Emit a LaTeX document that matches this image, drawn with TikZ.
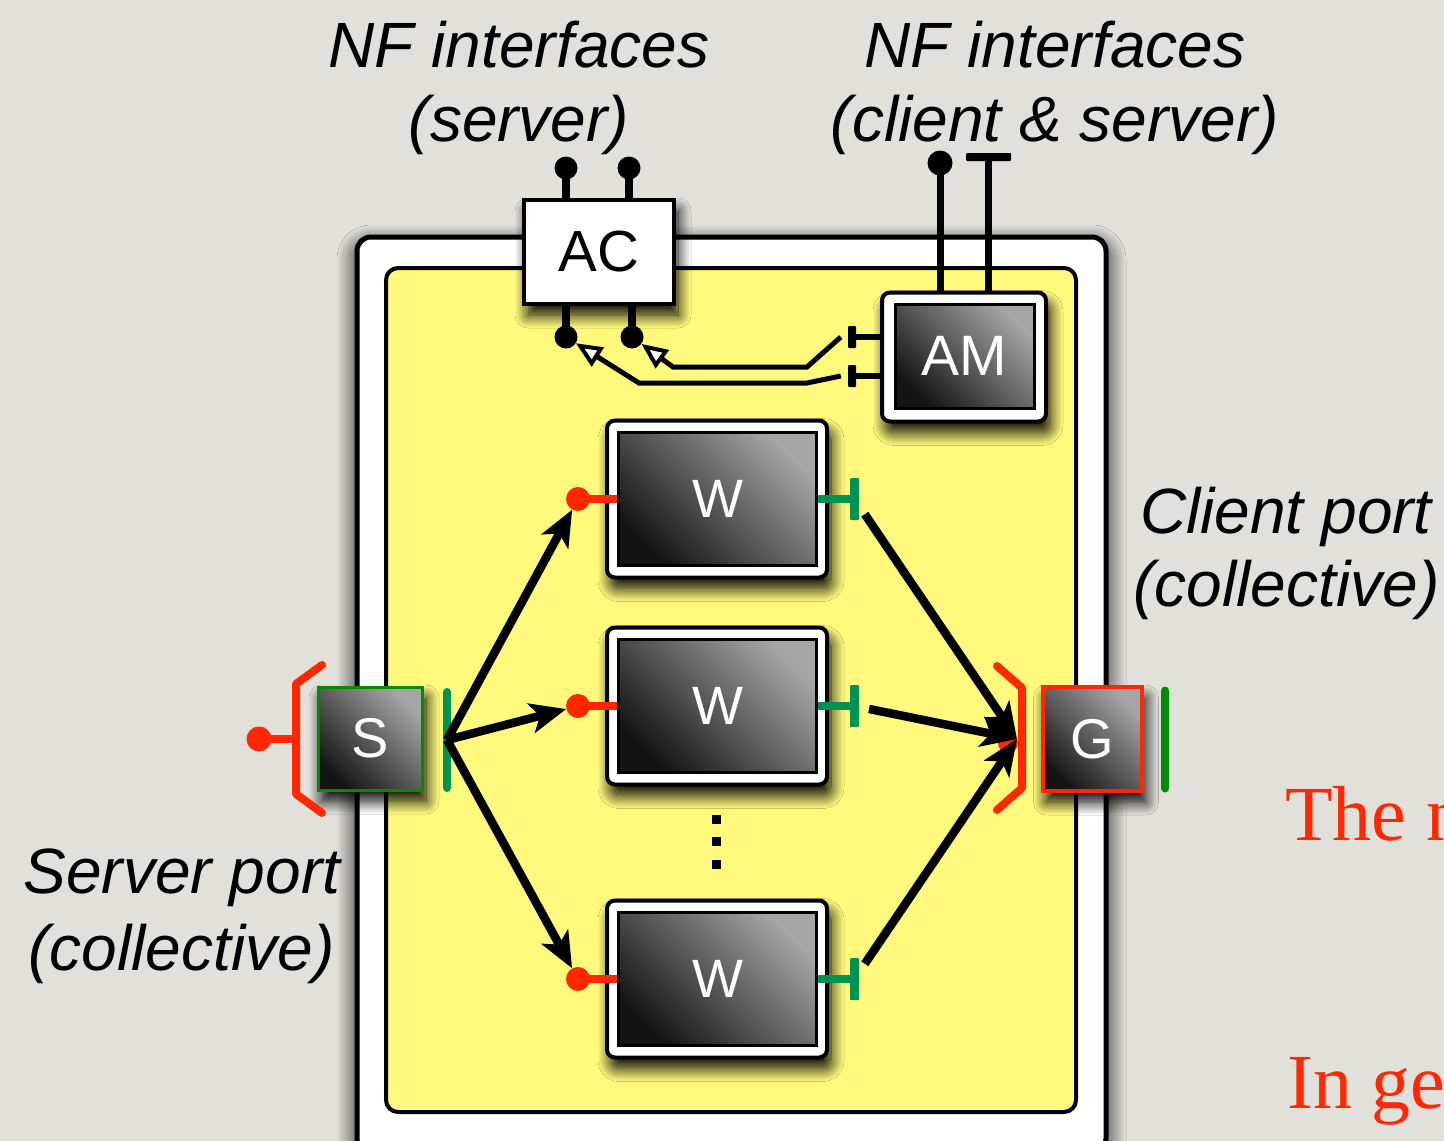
\documentclass[tikz,border=0pt]{standalone}
\usepackage{fontspec}
\setmainfont{Liberation Serif}
\setsansfont{Liberation Sans}
\usetikzlibrary{arrows.meta,shadows.blur}
\definecolor{bg}{RGB}{226,224,219}
\definecolor{yel}{RGB}{255,250,125}
\definecolor{pred}{RGB}{255,40,0}
\definecolor{tgreen}{RGB}{0,145,85}
\definecolor{pgreen}{RGB}{0,140,0}
\definecolor{lgray}{RGB}{165,165,165}
\begin{document}
\begin{tikzpicture}[x=1pt,y=-1pt,
  shad/.style={blur shadow={shadow xshift=4pt,shadow yshift=-11pt,shadow blur radius=13pt,shadow blur steps=14,shadow opacity=100}},
  bigshad/.style={blur shadow={shadow xshift=0pt,shadow yshift=-8pt,shadow blur radius=20pt,shadow blur steps=14,shadow opacity=100}},
  boxfont/.style={font=\sffamily\fontsize{56}{56}\selectfont},
  darkbox/.style={draw=black,line width=3pt,top color=lgray,bottom color=black!92,shading angle=-45,inner sep=0pt,text=white,boxfont},
  whitebox/.style={draw=black,line width=4pt,fill=white,rounded corners=8pt,inner sep=0pt},
  lolli/.style={circle,inner sep=0pt,minimum size=#1},
  tbar/.style={rectangle,inner sep=0pt,rounded corners=1pt},
  bigarrow/.style={line width=8.5pt,-{Stealth[length=36pt,width=30pt,inset=9pt]}},
  nfarrow/.style={line width=5pt,line join=miter,-{Triangle[fill=white,length=26pt,width=22pt,line width=4pt]}},
  annot/.style={font=\sffamily\itshape\fontsize{64}{64}\selectfont,inner sep=0pt},
  redtxt/.style={font=\rmfamily\fontsize{78}{78}\selectfont,text=pred,inner sep=0pt}
]
\useasboundingbox (0,0) rectangle (1444,1141);
\fill[bg] (0,0) rectangle (1444,1141);
\begin{scope}
\clip (0,0) rectangle (1444,1141);

% containers
\node[draw=black,line width=5pt,fill=white,rounded corners=14pt,minimum width=749pt,minimum height=915pt,bigshad] (outer) at (731.5,694.5) {};
\node[draw=black,line width=4pt,fill=yel,rounded corners=12pt,minimum width=690pt,minimum height=844pt] (yellow) at (731,690) {};

% AC
\node[draw=black,line width=4pt,fill=white,minimum width=150pt,minimum height=104pt,inner sep=0pt,shad,font=\sffamily\fontsize{58}{58}\selectfont] (AC) at (599,252) {AC};
\node[lolli=23pt,fill=black] (ac1t) at (566,168) {};
\node[lolli=23pt,fill=black] (ac2t) at (629,168) {};
\node[lolli=23pt,fill=black] (ac1b) at (566,337) {};
\node[lolli=23pt,fill=black] (ac2b) at (632,337) {};
\draw[line width=8pt] (ac1t.center) -- (ac1t.center |- AC.north);
\draw[line width=8pt] (ac2t.center) -- (ac2t.center |- AC.north);
\draw[line width=8pt] (ac1b.center) -- (ac1b.center |- AC.south);
\draw[line width=8pt] (ac2b.center) -- (ac2b.center |- AC.south);

% AM
\node[whitebox,minimum width=164pt,minimum height=129pt,shad] (AMo) at (964,357) {};
\node[darkbox,minimum width=139pt,minimum height=104pt,font=\sffamily\fontsize{57}{57}\selectfont] (AM) at (964.5,356) {AM};
\node[lolli=25pt,fill=black] (amc) at (940,163) {};
\node[tbar,fill=black,minimum width=45pt,minimum height=8pt] (amt) at (988.5,157) {};
\draw[line width=7pt] (amc.center) -- (amc.center |- AMo.north);
\draw[line width=7pt] (amt.center) -- (amt.center |- AMo.north);
\node[tbar,fill=black,minimum width=8pt,minimum height=22pt] (aml1) at (852,337) {};
\node[tbar,fill=black,minimum width=8pt,minimum height=22pt] (aml2) at (852,376) {};
\draw[line width=6pt] (aml1.center) -- (AMo.west |- aml1.center);
\draw[line width=6pt] (aml2.center) -- (AMo.west |- aml2.center);
\draw[nfarrow] (aml1.west) ++(-7,0) -- (807,367) -- (673,367) -- (ac2b);
\draw[nfarrow] (aml2.west) ++(-7,0) -- (807,383) -- (639,383) -- (ac1b);

% W boxes
\foreach \n/\y in {1/499,2/706,3/979}{
  \node[whitebox,minimum width=220pt,minimum height=157pt,shad] (W\n o) at (717,\y) {};
  \node[darkbox,minimum width=198pt,minimum height=133pt,font=\sffamily\fontsize{54}{54}\selectfont] (W\n) at (717.5,\y) {W};
  \node[lolli=24pt,fill=pred] (w\n in) at (578,\y) {};
  \draw[pred,line width=8pt] (w\n in.center) -- (W\n.west |- w\n in.center);
  \node[tbar,fill=tgreen,minimum width=9pt,minimum height=42pt] (w\n bar) at (854.5,\y) {};
  \draw[tgreen,line width=8pt] (W\n.east |- w\n bar.center) -- (w\n bar.center);
}

% dots
\foreach \k/\y in {1/819.5,2/841.5,3/864.5}{
  \node[rectangle,fill=black,minimum size=9pt,inner sep=0pt] (dot\k) at (716.5,\y) {};
}

% S
\node[darkbox,draw=pgreen,minimum width=104pt,minimum height=103pt,shad] (S) at (370,738.5) {S};
\draw[pred,line width=8pt,line cap=round,line join=round] (322,665) -- (296,684) -- (296,794) -- (322,813);
\node[lolli=25pt,fill=pred] (sin) at (259,739) {};
\draw[pred,line width=8pt] (sin.center) -- (296,739);
\node[tbar,fill=tgreen,minimum width=8pt,minimum height=104pt,rounded corners=4pt] (sbar) at (447,740) {};

% G
\node[darkbox,draw=pred,line width=4pt,minimum width=99pt,minimum height=104pt,shad] (G) at (1092,739) {G};
\node[lolli=20pt,fill=pred] (gin) at (1008,743) {};
\draw[pred,line width=8pt,line cap=round,line join=round] (997,666) -- (1022,688) -- (1022,788) -- (997,810);
\node[tbar,fill=pgreen,minimum width=8pt,minimum height=106pt,rounded corners=4pt] (gbar) at (1165,739.5) {};
\coordinate (gv) at (1017,739);

% big arrows
\draw[bigarrow] (sbar.center) -- (w1in);
\draw[bigarrow] (sbar.center) -- (w2in);
\draw[bigarrow] (sbar.center) -- (w3in);
\draw[bigarrow,shorten <=10pt] (w1bar) -- (gv);
\draw[bigarrow,shorten <=10pt] (w2bar) -- (gv);
\draw[bigarrow,shorten <=10pt] (w3bar) -- (gv);

% annotations
\node[annot,anchor=base] (nf1a) at (519,67) {NF interfaces};
\node[annot,anchor=base] (nf1b) at (519,141) {(server)};
\node[annot,anchor=base] (nf2a) at (1055,67) {NF interfaces};
\node[annot,anchor=base] (nf2b) at (1055,141) {(client \& server)};
\node[annot,anchor=base] (cp1) at (1286,533) {Client port};
\node[annot,anchor=base] (cp2) at (1286.5,606) {(collective)};
\node[annot,anchor=base] (sp1) at (182,893) {Server port};
\node[annot,anchor=base] (sp2) at (181.5,970) {(collective)};

% red slide text
\node[redtxt,anchor=base west] (the) at (1285,840) {The n};
\node[redtxt,anchor=base west] (ingen) at (1287,1108) {In ge};
\end{scope}
\end{tikzpicture}
\end{document}
